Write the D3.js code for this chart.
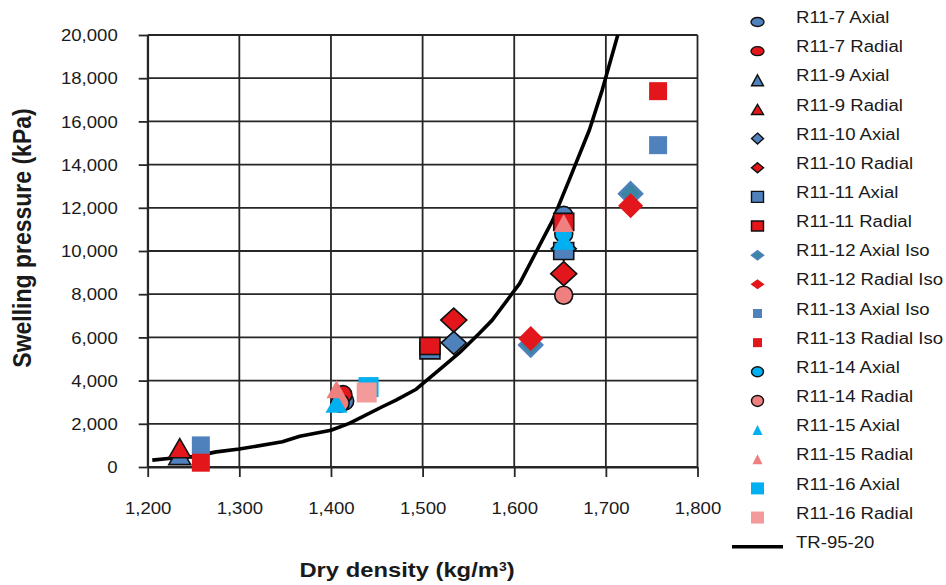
<!doctype html>
<html>
<head>
<meta charset="UTF-8">
<script src="https://d3js.org/d3.v7.min.js"></script>
<style>
body { margin: 0; background: #fff; }
text { font-family: "Liberation Sans", Arial, sans-serif; fill: #1a1a1a; }
</style>
</head>
<body>
<script>
// axis ticks
var xTicks = [1200, 1300, 1400, 1500, 1600, 1700, 1800];
var yTicks = [0, 2000, 4000, 6000, 8000, 10000, 12000, 14000, 16000, 18000, 20000];

// measured points, dry density (kg/m3) and swelling pressure (kPa)
var r7AxX = [1415, 1654],  r7AxY = [3050, 11650];
var r7RaX = [1413, 1654],  r7RaY = [3350, 11300];
var r9AxX = [1235],        r9AxY = [550];
var r9RaX = [1235],        r9RaY = [870];
var r10AxX = [1534, 1654], r10AxY = [5750, 10100];
var r10RaX = [1534, 1654], r10RaY = [6800, 8950];
var r11AxX = [1508, 1654], r11AxY = [5400, 10000];
var r11RaX = [1508, 1654], r11RaY = [5600, 11350];
var r12AxX = [1618, 1727], r12AxY = [5650, 12650];
var r12RaX = [1618, 1727], r12RaY = [5950, 12100];
var r13AxX = [1258, 1757], r13AxY = [1000, 14900];
var r13RaX = [1258, 1757], r13RaY = [200, 17400];
var r14AxX = [1654],       r14AxY = [10800];
var r14RaX = [1410, 1654], r14RaY = [2950, 7950];
var r15AxX = [1406, 1654], r15AxY = [2950, 10500];
var r15RaX = [1406, 1654], r15RaY = [3600, 11300];
var r16AxX = [1441],       r16AxY = [3700];
var r16RaX = [1439],       r16RaY = [3450];

// TR-95-20 reference curve
var trX = [1205, 1228, 1249, 1275, 1300, 1347, 1366, 1400, 1420, 1456, 1471, 1493, 1522, 1540, 1562, 1576, 1606, 1642, 1660, 1682, 1696, 1713];
var trY = [320, 420, 480, 700, 830, 1170, 1420, 1700, 2020, 2790, 3100, 3600, 4640, 5280, 6190, 6800, 8500, 11430, 13290, 15600, 17450, 20000];

var blue = "#4F81BD", red = "#E3161B", lblue = "#00B0F0", pink = "#F07F7F", lpink = "#F39A9A";

// series: name, data, shape, style (plot size w,h / legend size w,h)
var series = [
  {name: "R11-7 Axial",       xs: r7AxX,  ys: r7AxY,  shape: "circle",   fill: blue,  stroke: "#111", pw: 18, ph: 18, lw: 13, lh: 9},
  {name: "R11-7 Radial",      xs: r7RaX,  ys: r7RaY,  shape: "circle",   fill: red,   stroke: "#111", pw: 18, ph: 18, lw: 13, lh: 9},
  {name: "R11-9 Axial",       xs: r9AxX,  ys: r9AxY,  shape: "triangle", fill: blue,  stroke: "#111", pw: 22, ph: 19, lw: 12, lh: 11},
  {name: "R11-9 Radial",      xs: r9RaX,  ys: r9RaY,  shape: "triangle", fill: red,   stroke: "#111", pw: 22, ph: 19, lw: 12, lh: 10},
  {name: "R11-10 Axial",      xs: r10AxX, ys: r10AxY, shape: "diamond",  fill: blue,  stroke: "#111", pw: 25, ph: 23, lw: 12, lh: 11},
  {name: "R11-10 Radial",     xs: r10RaX, ys: r10RaY, shape: "diamond",  fill: red,   stroke: "#111", pw: 26, ph: 24, lw: 12, lh: 10},
  {name: "R11-11 Axial",      xs: r11AxX, ys: r11AxY, shape: "square",   fill: blue,  stroke: "#111", pw: 20, ph: 17, lw: 12, lh: 11},
  {name: "R11-11 Radial",     xs: r11RaX, ys: r11RaY, shape: "square",   fill: red,   stroke: "#111", pw: 20, ph: 17, lw: 12, lh: 10},
  {name: "R11-12 Axial Iso",  xs: r12AxX, ys: r12AxY, shape: "diamond",  fill: "#3A86A2", stroke: blue, pw: 23, ph: 23, lw: 12, lh: 9},
  {name: "R11-12 Radial Iso", xs: r12RaX, ys: r12RaY, shape: "diamond",  fill: red,   stroke: "none", pw: 25, ph: 25, lw: 14, lh: 10},
  {name: "R11-13 Axial Iso",  xs: r13AxX, ys: r13AxY, shape: "square",   fill: blue,  stroke: "none", pw: 18, ph: 18, lw: 9,  lh: 9},
  {name: "R11-13 Radial Iso", xs: r13RaX, ys: r13RaY, shape: "square",   fill: red,   stroke: "none", pw: 18, ph: 18, lw: 9,  lh: 9},
  {name: "R11-14 Axial",      xs: r14AxX, ys: r14AxY, shape: "circle",   fill: lblue, stroke: "#111", pw: 18, ph: 18, lw: 12, lh: 10},
  {name: "R11-14 Radial",     xs: r14RaX, ys: r14RaY, shape: "circle",   fill: pink,  stroke: "#111", pw: 18, ph: 18, lw: 12, lh: 11},
  {name: "R11-15 Axial",      xs: r15AxX, ys: r15AxY, shape: "triangle", fill: lblue, stroke: "none", pw: 22, ph: 19, lw: 10, lh: 10},
  {name: "R11-15 Radial",     xs: r15RaX, ys: r15RaY, shape: "triangle", fill: pink,  stroke: "none", pw: 20, ph: 18, lw: 10, lh: 10},
  {name: "R11-16 Axial",      xs: r16AxX, ys: r16AxY, shape: "square",   fill: lblue, stroke: "none", pw: 20, ph: 20, lw: 13, lh: 12},
  {name: "R11-16 Radial",     xs: r16RaX, ys: r16RaY, shape: "square",   fill: lpink, stroke: "none", pw: 20, ph: 20, lw: 13, lh: 12}
];

var W = 946, H = 585;
var sx = 1.16; // glyphs in the picture are slightly wide

var svg = d3.select("body").append("svg")
    .attr("width", W)
    .attr("height", H);
svg.append("rect").attr("width", W).attr("height", H).attr("fill", "#fff");

var x = d3.scaleLinear().domain([1200, 1800]).range([147.7, 697.5]);
var y = d3.scaleLinear().domain([0, 20000]).range([467, 35]);

// marker outline centred on 0,0
function shapePath(shape, w, h) {
  var a = w / 2, b = h / 2;
  if (shape == "square") return "M" + (-a) + "," + (-b) + "H" + a + "V" + b + "H" + (-a) + "Z";
  if (shape == "diamond") return "M0," + (-b) + "L" + a + ",0L0," + b + "L" + (-a) + ",0Z";
  if (shape == "triangle") return "M0," + (-b) + "L" + a + "," + b + "L" + (-a) + "," + b + "Z";
  // ellipse
  return "M" + (-a) + ",0A" + a + "," + b + " 0 1,0 " + a + ",0A" + a + "," + b + " 0 1,0 " + (-a) + ",0Z";
}

// grid
var grid = svg.append("g").attr("stroke", "#262626").attr("stroke-width", 1.8);
grid.selectAll(".gx").data(xTicks).enter().append("line")
    .attr("x1", d => x(d)).attr("x2", d => x(d))
    .attr("y1", y(0)).attr("y2", y(20000));
grid.selectAll(".gy").data(yTicks).enter().append("line")
    .attr("x1", x(1200)).attr("x2", x(1800))
    .attr("y1", d => y(d)).attr("y2", d => y(d));

// axes
var yAxis = svg.append("g")
    .attr("transform", "translate(" + x(1200) + ",0)")
    .call(d3.axisLeft(y).tickValues(yTicks).tickSize(9).tickSizeOuter(0).tickFormat(d3.format(",")));
var xAxis = svg.append("g")
    .attr("transform", "translate(0," + y(0) + ")")
    .call(d3.axisBottom(x).tickValues(xTicks).tickSize(10).tickSizeOuter(0).tickFormat(d3.format(",")));
[xAxis, yAxis].forEach(function(ax) {
  ax.selectAll("path, line").attr("stroke", "#262626").attr("stroke-width", 1.8);
  ax.selectAll("text").attr("fill", "#1a1a1a").style("font-size", "16px")
    .style("font-family", "'Liberation Sans', Arial, sans-serif");
});
yAxis.selectAll("text").attr("x", null).attr("dy", "0.35em")
    .attr("transform", "translate(-30,0) scale(" + sx + ",1)");
xAxis.selectAll("text").attr("y", null).attr("dy", "0.35em")
    .attr("transform", "translate(0,41) scale(" + sx + ",1)");

// axis titles
svg.append("text")
    .attr("transform", "translate(22,238) scale(" + sx + ",1) rotate(-90)")
    .attr("text-anchor", "middle").attr("dy", "0.35em")
    .style("font-size", "23px").style("font-weight", "bold")
    .text("Swelling pressure (kPa)");
var xt = svg.append("text")
    .attr("transform", "translate(407,570) scale(" + sx + ",1)")
    .attr("text-anchor", "middle").attr("dy", "0.35em")
    .style("font-size", "20.5px").style("font-weight", "bold");
xt.append("tspan").text("Dry density (kg/m");
xt.append("tspan").attr("baseline-shift", "super").style("font-size", "12px").text("3");
xt.append("tspan").text(")");

// reference curve
var plot = svg.append("g");
plot.append("path")
    .datum(trX.map((d, i) => [d, trY[i]]))
    .attr("fill", "none").attr("stroke", "#000").attr("stroke-width", 3.6)
    .attr("stroke-linejoin", "round")
    .attr("d", d3.line().x(d => x(d[0])).y(d => y(d[1])));

// markers
series.forEach(function(s) {
  plot.append("g").selectAll("path")
      .data(s.xs.map((d, i) => [d, s.ys[i]]))
      .enter().append("path")
      .attr("transform", d => "translate(" + x(d[0]) + "," + y(d[1]) + ")")
      .attr("d", shapePath(s.shape, s.pw, s.ph))
      .attr("fill", s.fill)
      .attr("stroke", s.stroke)
      .attr("stroke-width", s.stroke == "none" ? 0 : (s.stroke == blue ? 2.5 : 1.6))
      .attr("stroke-linejoin", "miter");
});

// legend
var legend = svg.append("g");
var rowY = i => 22 + i * 29.15;
series.forEach(function(s, i) {
  legend.append("path")
      .attr("transform", "translate(757.5," + rowY(i) + ")")
      .attr("d", shapePath(s.shape, s.lw, s.lh))
      .attr("fill", s.fill)
      .attr("stroke", s.stroke)
      .attr("stroke-width", s.stroke == "none" ? 0 : (s.stroke == blue ? 1.5 : 1.4));
  legend.append("text")
      .attr("transform", "translate(796," + (rowY(i) - 4.5) + ") scale(" + sx + ",1)")
      .attr("dy", "0.35em").style("font-size", "16px")
      .text(s.name);
});
legend.append("line")
    .attr("x1", 732).attr("x2", 783)
    .attr("y1", rowY(18)).attr("y2", rowY(18))
    .attr("stroke", "#000").attr("stroke-width", 3.6);
legend.append("text")
    .attr("transform", "translate(796," + (rowY(18) - 4.5) + ") scale(" + sx + ",1)")
    .attr("dy", "0.35em").style("font-size", "16px")
    .text("TR-95-20");
</script>
</body>
</html>
